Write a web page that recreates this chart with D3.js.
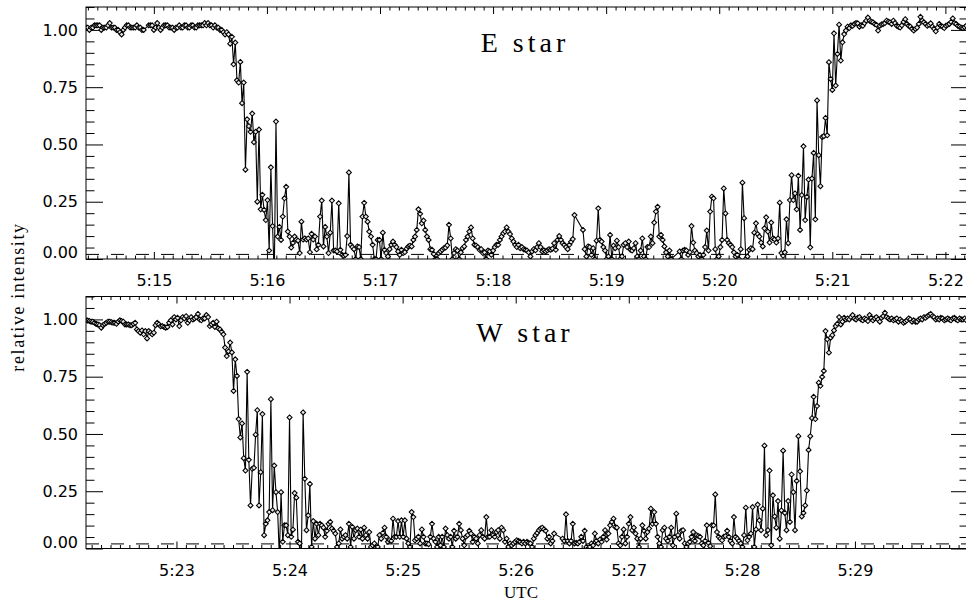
<!DOCTYPE html>
<html>
<head>
<meta charset="utf-8">
<script src="https://cdn.jsdelivr.net/npm/d3@7"></script>
<style>
  html, body { margin: 0; padding: 0; background: #fff; }
  svg { display: block; }
</style>
</head>
<body>
<svg id="chart" width="966" height="602"></svg>
<script>
// Light curves of the two stars, one sample every 0.9 s, 468 s per panel.
// null marks a missing sample (the line simply joins its neighbours).
const sampleStep = 0.9;
const panelSeconds = 468;
const eStart = "5:14:24";
const wStart = "5:22:12";
const eTickLabels = ["5:15", "5:16", "5:17", "5:18", "5:19", "5:20", "5:21", "5:22"];
const wTickLabels = ["5:23", "5:24", "5:25", "5:26", "5:27", "5:28", "5:29"];
const yTickValues = [0, 0.25, 0.5, 0.75, 1.0];
const referenceLevel = 0.02;

const eValues = [
  1.01,1.01,1.00,1.01,1.01,1.02,1.02,1.02,1.02,1.00,
  1.01,1.01,1.01,1.02,1.03,1.01,1.01,1.01,1.00,1.00,
  0.99,0.98,1.00,1.01,1.02,1.02,1.01,1.01,1.01,1.01,
  1.02,1.01,1.01,1.00,1.00,null,null,1.02,1.02,1.02,
  1.00,1.01,1.03,1.01,1.00,1.01,1.02,1.02,1.02,1.01,
  1.01,1.01,1.00,1.01,1.01,1.02,1.01,1.01,1.02,1.02,
  1.01,1.01,1.02,1.02,1.01,1.01,1.02,1.02,1.02,1.02,
  1.03,1.02,1.03,1.02,1.02,1.01,1.02,1.01,1.01,1.00,
  1.00,0.99,0.98,0.99,0.98,0.94,0.97,0.85,0.945,0.78,
  0.77,0.86,0.68,0.77,0.39,0.61,0.58,0.555,0.635,0.51,
  0.555,0.25,0.565,0.217,0.28,0.214,0.17,0.257,0.037,0.40,
  0.144,-0.08,0.60,0.098,0.14,0.083,0.185,0.265,0.315,0.12,
  0.098,0.05,0.07,0.098,0.085,0.08,0.026,0.163,0.085,0.09,
  0.085,0.09,0.03,0.11,0.085,0.098,0.042,0.062,0.185,0.255,
  0.055,0.14,0.098,0.026,0.115,0.255,0.037,0.037,0.033,0.243,
  0.04,0.018,0.014,0.018,0.10,0.378,0.062,0.052,0.043,0.0,
  0.055,0.052,0.0,0.185,0.245,0.185,0.163,0.12,0.098,0.062,
  0.0,0.0,0.083,0.083,0.0,0.115,0.04,0.026,0.011,0.043,
  0.062,0.076,0.062,0.052,0.033,0.018,0.04,0.026,0.03,0.045,
  0.055,0.058,0.055,0.083,0.098,0.127,0.217,0.197,0.156,0.168,
  0.127,0.098,0.083,0.043,0.04,0.022,0.0,0.0,0.026,0.033,
  0.04,0.047,0.05,0.06,0.149,0.09,0.0,0.026,0.043,0.037,
  0.0,0.029,0.047,0.055,0.083,0.098,0.12,0.138,0.09,0.062,
  0.058,0.052,0.04,0.043,0.026,0.029,0.0,0.037,0.033,0.018,
  0.037,0.052,0.062,0.062,0.083,0.098,0.112,0.12,0.138,0.12,
  0.109,0.09,0.076,0.062,0.052,0.062,0.047,0.052,0.043,0.04,
  0.037,0.029,0.011,0.033,0.043,0.038,0.052,0.069,0.052,0.033,
  0.038,0.033,0.038,0.043,0.04,0.045,0.069,0.04,0.083,0.10,
  0.083,0.069,0.062,0.052,0.043,0.062,0.075,0.087,0.192,null,
  null,null,null,0.127,0.043,0.011,0.055,0.052,0.018,0.047,
  0.0,0.08,0.221,0.083,0.076,0.052,0.037,0.0,0.011,0.105,
  0.0,0.058,0.047,0.08,0.052,0.0,0.011,0.062,0.069,0.052,
  0.076,0.04,0.037,0.047,0.069,0.011,0.0,0.037,0.09,0.011,
  0.0,0.052,0.052,0.098,0.069,0.159,0.207,0.228,0.098,0.105,
  0.083,0.055,0.029,0.011,0.037,0.0,null,null,null,null,
  0.033,0.0,0.037,0.04,0.037,0.018,0.03,0.144,0.072,0.037,
  0.026,0.011,0.018,0.0,0.018,0.052,0.124,0.037,0.207,0.272,
  0.265,0.043,0.0,0.011,0.052,0.083,0.308,0.199,0.083,0.069,
  0.062,0.052,0.029,0.011,0.018,0.0,0.043,0.333,0.178,0.0,
  0.011,0.04,0.047,0.043,0.115,0.156,0.109,0.098,0.072,0.055,
  0.134,0.182,0.12,0.072,0.159,0.09,0.086,0.072,0.09,0.246,
  0.026,0.014,0.029,0.173,0.069,0.257,0.366,0.257,0.286,0.217,
  0.363,0.127,0.279,0.492,0.170,0.271,0.347,0.051,0.351,0.463,
  0.173,0.692,0.453,0.318,0.533,0.536,0.616,0.54,0.859,0.786,
  0.738,0.985,0.757,0.895,1.023,0.866,0.946,0.982,0.997,1.014,
  1.008,1.02,1.018,1.026,1.03,1.029,1.014,1.02,1.018,1.03,
  1.04,1.054,1.04,1.036,1.033,1.026,1.022,0.997,1.018,1.024,
  1.026,1.03,1.04,1.036,1.033,1.026,1.04,1.03,1.018,1.014,
  1.01,1.02,1.035,1.047,1.026,1.018,1.014,1.005,0.997,1.004,
  1.01,1.026,1.057,1.04,1.033,1.026,1.018,1.022,1.029,1.014,
  1.005,0.994,1.01,1.026,1.018,1.014,1.008,1.018,1.022,1.026,
  1.035,1.05,1.03,1.026,1.018,1.014,1.01,1.008,1.012,1.018
];

const wValues = [
  0.996,0.995,0.993,0.99,0.99,0.985,0.98,0.978,0.975,0.964,
  0.975,0.98,0.985,0.99,0.99,0.988,0.985,0.985,0.981,0.99,
  0.996,0.993,0.99,0.978,0.978,0.978,0.975,0.975,0.98,0.985,
  0.956,0.949,0.942,0.952,0.935,0.949,0.917,0.949,0.942,0.935,
  0.942,0.975,0.985,0.978,0.97,0.971,0.967,0.964,0.967,0.985,
  0.996,0.978,1.01,1.0,1.007,0.971,0.996,1.01,1.004,1.014,
  0.985,0.996,1.01,1.0,1.004,1.01,1.024,1.0,0.996,1.004,
  1.004,1.019,1.01,0.971,0.978,0.985,0.967,0.99,0.961,0.956,
  0.946,0.935,0.877,0.84,0.86,0.899,0.856,0.688,0.826,0.753,
  0.565,0.485,0.546,0.394,0.34,0.771,0.387,0.188,0.348,0.352,
  0.497,0.604,0.188,0.333,0.587,0.058,0.108,0.123,0.159,0.652,
  0.167,0.362,0.246,0.159,-0.036,0.246,0.029,0.101,0.101,0.058,
  0.572,0.051,0.082,0.242,0.222,0.029,0.022,-0.036,0.594,0.304,
  0.08,0.145,0.282,0.007,0.12,0.043,0.108,0.058,0.108,0.101,
  0.091,0.051,0.077,0.108,0.116,0.087,0.077,0.065,0.007,0.022,
  0.083,0.043,0.051,0.058,0.043,0.108,0.007,0.094,0.043,0.08,
  0.087,0.051,0.082,0.043,0.091,0.058,0.043,0.072,0.007,0.014,
  0.022,0.004,0.007,0.058,0.043,0.068,0.091,0.051,0.029,0.036,
  0.033,0.13,0.051,0.051,0.12,0.051,0.123,0.051,0.123,0.043,
  0.022,0.007,0.159,0.137,0.036,0.043,0.051,0.022,0.083,0.051,
  0.022,0.022,0.019,0.051,0.108,0.043,0.029,0.007,0.051,0.014,
  0.051,0.007,0.087,0.058,0.043,0.051,0.007,0.077,0.043,0.051,
  0.108,0.08,0.043,0.014,0.051,0.058,0.077,0.065,0.029,0.051,
  0.043,0.022,0.058,0.08,0.051,0.043,0.137,0.051,0.051,0.08,
  0.058,0.051,0.072,0.08,0.043,0.091,0.08,0.029,0.043,0.007,
  0.022,0.014,0.022,0.029,0.036,0.033,0.029,0.022,0.029,0.022,
  0.029,0.025,0.022,0.007,0.043,0.058,0.068,0.08,0.087,0.091,
  0.083,0.077,0.043,0.051,0.022,0.033,0.065,null,null,null,
  null,0.043,0.033,0.149,0.033,0.022,0.033,0.108,0.022,0.025,
  0.022,0.029,0.051,0.033,0.077,0.007,-0.001,0.007,0.022,0.014,
  0.065,0.033,0.022,0.039,0.029,0.051,0.08,0.039,0.065,0.101,
  0.116,0.13,0.094,0.091,0.022,0.014,0.051,0.083,0.022,0.051,
  0.108,0.137,0.08,0.091,0.065,0.043,0.007,0.043,0.101,0.077,
  0.043,0.072,0.087,0.174,0.108,0.159,0.108,0.051,0.022,0.007,
  0.08,0.091,0.043,0.033,0.051,0.091,0.014,0.051,0.152,0.058,
  0.043,0.077,0.08,0.022,0.007,0.022,0.029,0.051,0.072,0.033,
  0.058,0.054,0.051,0.022,0.014,0.033,0.101,0.025,0.01,0.101,
  0.101,0.236,0.072,0.051,0.043,0.036,0.051,0.054,0.077,0.051,
  0.033,0.022,0.137,0.051,0.043,0.033,0.022,0.007,0.058,0.178,
  0.036,0.051,0.065,0.181,0.007,0.083,0.192,0.123,0.08,0.174,
  0.449,0.058,0.08,0.34,0.014,0.232,0.14,0.091,0.207,0.043,
  0.166,0.427,0.155,0.08,0.207,0.116,0.323,0.246,0.08,0.295,
  0.49,0.337,0.14,0.155,0.188,0.253,0.43,0.49,0.569,0.662,
  0.565,0.622,0.724,0.71,0.749,0.775,0.949,0.913,0.855,0.92,
  0.931,0.952,0.971,0.981,1.01,0.978,0.99,1.007,1.0,1.004,
  1.0,1.01,1.019,1.004,1.0,1.007,1.01,1.0,0.996,1.004,
  1.0,0.993,1.019,1.007,0.996,1.004,1.01,1.0,0.99,1.007,
  1.014,1.029,1.01,1.004,1.0,1.004,0.996,1.0,1.004,0.99,
  1.0,0.993,0.985,0.99,0.996,1.004,1.0,0.99,0.996,0.99,
  0.99,1.0,1.004,1.0,1.01,1.007,1.014,1.019,1.024,1.014,
  1.01,1.0,1.004,1.0,1.007,1.004,0.996,1.0,1.004,1.0,
  0.996,1.004,1.007,1.0,0.996,1.004,1.0,1.0,1.004,0.996
];

// ---- layout ----
const plotLeft = 86, plotRight = 968;
const panels = [
  { id: "e", title: "E star", start: eStart, values: eValues, labels: eTickLabels, top: 7, bottom: 259 },
  { id: "w", title: "W star", start: wStart, values: wValues, labels: wTickLabels, top: 296.5, bottom: 548.5 }
];

const toSeconds = s => s.split(":").map(Number).reduce((acc, v, i) => acc + v * [3600, 60, 1][i], 0);
const labelFont = "'DejaVu Sans', sans-serif";
const serifFont = "'Liberation Serif', 'DejaVu Serif', serif";

const svg = d3.select("#chart");
svg.append("rect").attr("width", 966).attr("height", 602).attr("fill", "#fff");

function styleAxis(g) {
  g.select(".domain").remove();
  g.selectAll(".tick line").attr("stroke", "#000").attr("stroke-width", 1);
  g.selectAll(".tick text").attr("fill", "#000").style("font-family", labelFont).style("font-size", "16px");
}

panels.forEach(p => {
  const t0 = toSeconds(p.start);
  const x = d3.scaleLinear().domain([t0, t0 + panelSeconds]).range([plotLeft, plotRight]);
  const y = d3.scaleLinear().domain([0, 1.1]).range([p.bottom, p.top]);

  const majorT = p.labels.map(toSeconds);
  const minorT = d3.range(Math.ceil(t0 / 5) * 5, t0 + panelSeconds + 0.01, 5).filter(t => t % 60 !== 0);
  const minorY = d3.range(0, 1.1001, 0.05).filter(v => Math.abs(v * 4 - Math.round(v * 4)) > 1e-6);

  const clipId = "clip-" + p.id;
  svg.append("clipPath").attr("id", clipId)
    .append("rect")
    .attr("x", plotLeft).attr("y", p.top)
    .attr("width", plotRight - plotLeft).attr("height", p.bottom - p.top);

  // axes: ticks point inward, labels only on the left and bottom
  svg.append("g").attr("transform", `translate(0,${p.bottom})`)
    .call(d3.axisBottom(x).tickValues(majorT).tickSize(-7).tickPadding(16)
      .tickFormat(t => { const m = Math.round(t / 60); return Math.floor(m / 60) + ":" + String(m % 60).padStart(2, "0"); }))
    .call(styleAxis);
  svg.append("g").attr("transform", `translate(0,${p.bottom})`)
    .call(d3.axisBottom(x).tickValues(minorT).tickSize(-3.5).tickFormat(""))
    .call(styleAxis);
  svg.append("g").attr("transform", `translate(0,${p.top})`)
    .call(d3.axisTop(x).tickValues(majorT).tickSize(-7).tickFormat(""))
    .call(styleAxis);
  svg.append("g").attr("transform", `translate(0,${p.top})`)
    .call(d3.axisTop(x).tickValues(minorT).tickSize(-3.5).tickFormat(""))
    .call(styleAxis);

  const yl = svg.append("g").attr("transform", `translate(${plotLeft},0)`)
    .call(d3.axisLeft(y).tickValues(yTickValues).tickSize(-17).tickPadding(8).tickFormat(d3.format(".2f")))
    .call(styleAxis);
  yl.selectAll(".tick text").filter(d => d === 0).attr("dy", "-0.08em");
  svg.append("g").attr("transform", `translate(${plotLeft},0)`)
    .call(d3.axisLeft(y).tickValues(minorY).tickSize(-8.5).tickFormat(""))
    .call(styleAxis);
  svg.append("g").attr("transform", `translate(${plotRight},0)`)
    .call(d3.axisRight(y).tickValues(yTickValues).tickSize(-17).tickFormat(""))
    .call(styleAxis);
  svg.append("g").attr("transform", `translate(${plotRight},0)`)
    .call(d3.axisRight(y).tickValues(minorY).tickSize(-8.5).tickFormat(""))
    .call(styleAxis);

  // dashed reference level
  svg.append("line")
    .attr("x1", plotLeft).attr("x2", plotRight)
    .attr("y1", y(referenceLevel)).attr("y2", y(referenceLevel))
    .attr("stroke", "#000").attr("stroke-width", 1)
    .attr("stroke-dasharray", "13,12");

  const pts = p.values
    .map((v, i) => ({ t: t0 + i * sampleStep, v }))
    .filter(d => d.v !== null);

  const plot = svg.append("g").attr("clip-path", `url(#${clipId})`);
  plot.append("path")
    .datum(pts)
    .attr("fill", "none")
    .attr("stroke", "#000")
    .attr("stroke-width", 1.1)
    .attr("d", d3.line().x(d => x(d.t)).y(d => y(d.v)));

  const r = 2.5;
  plot.append("g").selectAll("path")
    .data(pts)
    .join("path")
    .attr("transform", d => `translate(${x(d.t)},${y(d.v)})`)
    .attr("d", `M0,${-r}L${r},0L0,${r}L${-r},0Z`)
    .attr("fill", "#e8e8e8")
    .attr("stroke", "#000")
    .attr("stroke-width", 1.05);

  // frame
  svg.append("rect")
    .attr("x", plotLeft).attr("y", p.top)
    .attr("width", plotRight - plotLeft).attr("height", p.bottom - p.top)
    .attr("fill", "none").attr("stroke", "#000").attr("stroke-width", 1);

  svg.append("text")
    .attr("x", 525).attr("y", p.top + 45)
    .attr("text-anchor", "middle")
    .style("font-family", serifFont).style("font-size", "28px").style("letter-spacing", "4px")
    .text(p.title);
});

svg.append("text")
  .attr("transform", "translate(24,297) rotate(-90)")
  .attr("text-anchor", "middle")
  .style("font-family", serifFont).style("font-size", "18px").style("letter-spacing", "1.6px")
  .text("relative intensity");

svg.append("text")
  .attr("x", 521).attr("y", 598)
  .attr("text-anchor", "middle")
  .style("font-family", serifFont).style("font-size", "17px")
  .text("UTC");
</script>
</body>
</html>
